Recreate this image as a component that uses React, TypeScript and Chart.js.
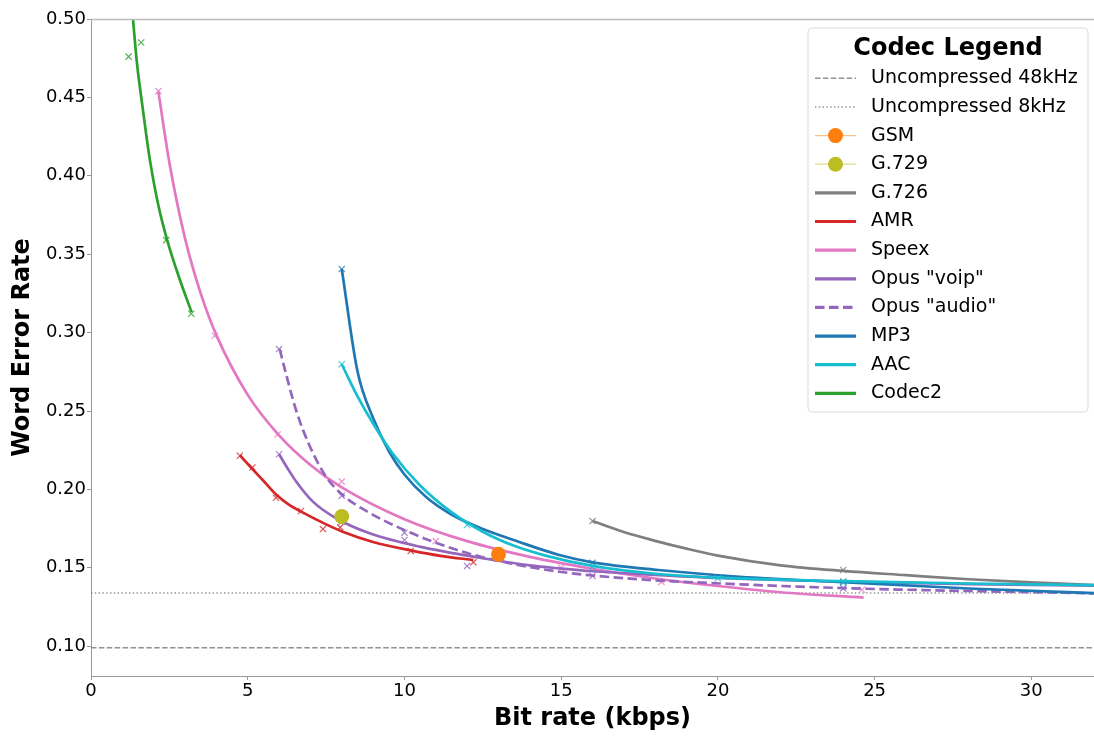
import React, { useEffect, useRef } from 'react';
import { Chart, registerables } from 'chart.js';

Chart.register(...registerables);

// ---- axes ----
const X_MIN = 0;
const X_MAX = 32;
const Y_MIN = 0.081;
const Y_MAX = 0.5;
const X_TICKS = [0, 5, 10, 15, 20, 25, 30];
const Y_TICKS = [0.1, 0.15, 0.2, 0.25, 0.3, 0.35, 0.4, 0.45, 0.5];
const X_TITLE = 'Bit rate (kbps)';
const Y_TITLE = 'Word Error Rate';
const LEGEND_TITLE = 'Codec Legend';

// ---- reference lines ----
const UNCOMP_48K = 0.099;
const UNCOMP_8K = 0.1339;

// ---- single-point codecs ----
const GSM_X = [13.0];
const GSM_Y = [0.1586];
const G729_X = [8.0];
const G729_Y = [0.1827];

// ---- G.726 ----
const g726CurveX = [16, 17, 18, 19, 20, 22, 24, 26, 28, 30, 32];
const g726CurveY = [0.1798, 0.1728, 0.1672, 0.1622, 0.1578, 0.1516, 0.148, 0.1453, 0.1427, 0.1407, 0.139];
const g726MarkX = [16, 24];
const g726MarkY = [0.1798, 0.1486];

// ---- AMR ----
const amrCurveX = [4.75, 5.15, 5.5, 5.93, 6.3, 6.69, 7.42, 8.03, 9.0, 10.23, 11.2, 12.2];
const amrCurveY = [0.2218, 0.213, 0.2055, 0.1962, 0.1905, 0.186, 0.1785, 0.173, 0.1665, 0.161, 0.1575, 0.155];
const amrMarkX = [4.75, 5.15, 5.9, 6.7, 7.4, 7.95, 10.2, 12.2];
const amrMarkY = [0.2215, 0.214, 0.1947, 0.1862, 0.1747, 0.1758, 0.1607, 0.1535];

// ---- Speex ----
const speexCurveX = [2.15, 2.5, 3.0, 3.5, 4.0, 5.0, 6.0, 7.0, 8.0, 10.0, 12.0, 14.0, 16.0, 18.0, 20.0, 22.0, 24.65];
const speexCurveY = [0.4537, 0.4085, 0.3601, 0.325, 0.2984, 0.2603, 0.2345, 0.2156, 0.2013, 0.181, 0.167, 0.157, 0.1494, 0.1432, 0.1384, 0.1344, 0.131];
const speexMarkX = [2.15, 3.95, 5.95, 8.0, 11.0, 15.0, 18.2, 24.6];
const speexMarkY = [0.454, 0.298, 0.235, 0.205, 0.167, 0.15, 0.141, 0.136];

// ---- Opus "voip" ----
const voipCurveX = [6.0, 6.3, 6.55, 7.08, 7.82, 8.89, 10.48, 12.6, 14.0, 15.0, 16.0, 18.0, 20.0, 24.0, 28.0, 32.0];
const voipCurveY = [0.2224, 0.2125, 0.2049, 0.1922, 0.1816, 0.172, 0.1635, 0.1558, 0.1515, 0.1495, 0.1478, 0.1455, 0.1435, 0.1412, 0.1396, 0.1386];
const voipMarkX = [6, 8, 10, 12];
const voipMarkY = [0.2224, 0.1794, 0.1677, 0.1512];

// ---- Opus "audio" ----
const audioCurveX = [6.02, 6.23, 6.55, 6.97, 7.5, 8.03, 8.89, 9.95, 11.0, 12.07, 13.34, 14.94, 17.06, 20.67, 24.27, 28.0, 32.0];
const audioCurveY = [0.2895, 0.273, 0.25, 0.228, 0.2081, 0.1964, 0.185, 0.1745, 0.166, 0.159, 0.153, 0.1475, 0.1433, 0.1395, 0.1369, 0.1352, 0.1337];
const audioMarkX = [6, 8, 10, 16, 24];
const audioMarkY = [0.2895, 0.196, 0.1724, 0.1448, 0.1369];

// ---- MP3 ----
const mp3CurveX = [8.0, 8.5, 9.0, 9.5, 10.0, 10.7, 11.5, 12.4, 13.66, 14.94, 16.0, 18.1, 20.7, 24.0, 28.0, 32.0];
const mp3CurveY = [0.3406, 0.2755, 0.2455, 0.2245, 0.2095, 0.195, 0.184, 0.1755, 0.1665, 0.1582, 0.1535, 0.1486, 0.1443, 0.1408, 0.1368, 0.1338];
const mp3MarkX = [8, 16, 24];
const mp3MarkY = [0.3406, 0.1532, 0.1412];

// ---- AAC ----
const aacCurveX = [8.0, 8.5, 9.0, 9.6, 10.5, 11.5, 12.5, 13.5, 14.5, 16.0, 18.0, 20.0, 24.0, 28.0, 32.0];
const aacCurveY = [0.2798, 0.2595, 0.242, 0.2235, 0.2025, 0.1855, 0.173, 0.164, 0.1578, 0.1512, 0.1462, 0.1437, 0.1415, 0.14, 0.139];
const aacMarkX = [8, 12, 16, 20, 24];
const aacMarkY = [0.2798, 0.1773, 0.1507, 0.1433, 0.1405];

// ---- Codec2 ----
const codec2CurveX = [1.2, 1.34, 1.46, 1.61, 1.75, 1.88, 2.14, 2.43, 2.83, 3.21];
const codec2CurveY = [0.534, 0.5, 0.473, 0.449, 0.428, 0.41, 0.382, 0.359, 0.334, 0.313];
const codec2MarkX = [1.2, 1.6, 2.4, 3.2];
const codec2MarkY = [0.476, 0.485, 0.359, 0.312];

// ---- colours ----
const C_GRAY = '#7f7f7f';
const C_ORANGE = '#ff7f0e';
const C_OLIVE = '#bcbd22';
const C_RED = '#d62728';
const C_PINK = '#e377c2';
const C_PURPLE = '#9467bd';
const C_BLUE = '#1f77b4';
const C_CYAN = '#17becf';
const C_GREEN = '#2ca02c';

const FONT = "'DejaVu Sans', sans-serif";

function rgba(hex: string, a: number) {
  const n = parseInt(hex.slice(1), 16);
  return `rgba(${(n >> 16) & 255},${(n >> 8) & 255},${n & 255},${a})`;
}
function pts(xs: number[], ys: number[]) {
  return xs.map((x, i) => ({ x, y: ys[i] }));
}

type Kind = 'ref-dash' | 'ref-dot' | 'dot' | 'solid' | 'dash';
interface SeriesDef {
  label: string;
  color: string;
  kind: Kind;
  cx?: number[];
  cy?: number[];
  mx?: number[];
  my?: number[];
}

const LINE_W = 2.7;

export default function App() {
  const ref = useRef<HTMLCanvasElement>(null);

  useEffect(() => {
    const series: SeriesDef[] = [
      { label: 'Uncompressed 48kHz', color: C_GRAY, kind: 'ref-dash', cx: [X_MIN, X_MAX], cy: [UNCOMP_48K, UNCOMP_48K] },
      { label: 'Uncompressed 8kHz', color: C_GRAY, kind: 'ref-dot', cx: [X_MIN, X_MAX], cy: [UNCOMP_8K, UNCOMP_8K] },
      { label: 'GSM', color: C_ORANGE, kind: 'dot', mx: GSM_X, my: GSM_Y },
      { label: 'G.729', color: C_OLIVE, kind: 'dot', mx: G729_X, my: G729_Y },
      { label: 'G.726', color: C_GRAY, kind: 'solid', cx: g726CurveX, cy: g726CurveY, mx: g726MarkX, my: g726MarkY },
      { label: 'AMR', color: C_RED, kind: 'solid', cx: amrCurveX, cy: amrCurveY, mx: amrMarkX, my: amrMarkY },
      { label: 'Speex', color: C_PINK, kind: 'solid', cx: speexCurveX, cy: speexCurveY, mx: speexMarkX, my: speexMarkY },
      { label: 'Opus "voip"', color: C_PURPLE, kind: 'solid', cx: voipCurveX, cy: voipCurveY, mx: voipMarkX, my: voipMarkY },
      { label: 'Opus "audio"', color: C_PURPLE, kind: 'dash', cx: audioCurveX, cy: audioCurveY, mx: audioMarkX, my: audioMarkY },
      { label: 'MP3', color: C_BLUE, kind: 'solid', cx: mp3CurveX, cy: mp3CurveY, mx: mp3MarkX, my: mp3MarkY },
      { label: 'AAC', color: C_CYAN, kind: 'solid', cx: aacCurveX, cy: aacCurveY, mx: aacMarkX, my: aacMarkY },
      { label: 'Codec2', color: C_GREEN, kind: 'solid', cx: codec2CurveX, cy: codec2CurveY, mx: codec2MarkX, my: codec2MarkY },
    ];

    const datasets: any[] = [];
    series.forEach((s, i) => {
      if (s.kind === 'dot') {
        datasets.push({
          label: s.label,
          data: pts(s.mx!, s.my!),
          showLine: false,
          pointStyle: 'circle',
          pointRadius: 7.5,
          pointBorderWidth: 0,
          backgroundColor: s.color,
          borderColor: s.color,
          order: -1000 - i,
        });
        return;
      }
      if (s.cx) {
        const isRef = s.kind === 'ref-dash' || s.kind === 'ref-dot';
        datasets.push({
          label: s.label,
          data: pts(s.cx, s.cy!),
          showLine: true,
          pointRadius: 0,
          borderColor: isRef ? rgba(s.color, 0.85) : s.color,
          borderWidth: isRef ? 1.4 : LINE_W,
          borderDash: s.kind === 'ref-dash' ? [5.5, 2.4] : s.kind === 'ref-dot' ? [1.4, 2.4] : s.kind === 'dash' ? [9.5, 4.5] : [],
          cubicInterpolationMode: 'monotone',
          fill: false,
          order: -i * 2,
        });
      }
      if (s.mx) {
        datasets.push({
          label: s.label + ' data',
          data: pts(s.mx, s.my!),
          showLine: false,
          pointStyle: 'crossRot',
          pointRadius: 4.4,
          pointBorderWidth: 1.2,
          borderColor: rgba(s.color, 0.8),
          backgroundColor: rgba(s.color, 0.8),
          order: -i * 2 - 1,
        });
      }
    });

    const framePlugin = {
      id: 'frameAndLegend',
      afterDraw(chart: any) {
        const { ctx, chartArea: ca } = chart;
        ctx.save();
        // top spine
        ctx.strokeStyle = '#bdbdbd';
        ctx.lineWidth = 1.3;
        ctx.beginPath();
        ctx.moveTo(ca.left, ca.top + 0.5);
        ctx.lineTo(ca.right, ca.top + 0.5);
        ctx.stroke();

        // legend box
        const bw = 280;
        const bh = 384;
        const bx = ca.right - 6 - bw;
        const by = ca.top + 9;
        const r = 4;
        ctx.beginPath();
        ctx.moveTo(bx + r, by);
        ctx.lineTo(bx + bw - r, by);
        ctx.arcTo(bx + bw, by, bx + bw, by + r, r);
        ctx.lineTo(bx + bw, by + bh - r);
        ctx.arcTo(bx + bw, by + bh, bx + bw - r, by + bh, r);
        ctx.lineTo(bx + r, by + bh);
        ctx.arcTo(bx, by + bh, bx, by + bh - r, r);
        ctx.lineTo(bx, by + r);
        ctx.arcTo(bx, by, bx + r, by, r);
        ctx.closePath();
        ctx.fillStyle = 'rgba(255,255,255,0.85)';
        ctx.fill();
        ctx.strokeStyle = '#dcdcdc';
        ctx.lineWidth = 1;
        ctx.stroke();

        ctx.fillStyle = '#000';
        ctx.font = `bold 24px ${FONT}`;
        ctx.textAlign = 'center';
        ctx.textBaseline = 'alphabetic';
        ctx.fillText(LEGEND_TITLE, bx + bw / 2, by + 27);

        const x1 = bx + 7;
        const x2 = bx + 48;
        series.forEach((s, i) => {
          const cy = by + 50.3 + i * 28.64;
          ctx.save();
          ctx.lineCap = 'butt';
          if (s.kind === 'ref-dash' || s.kind === 'ref-dot') {
            ctx.strokeStyle = rgba(s.color, 0.85);
            ctx.lineWidth = 1.4;
            ctx.setLineDash(s.kind === 'ref-dash' ? [5.5, 2.4] : [1.4, 2.4]);
            ctx.beginPath();
            ctx.moveTo(x1, cy);
            ctx.lineTo(x2, cy);
            ctx.stroke();
          } else if (s.kind === 'dot') {
            ctx.strokeStyle = rgba(s.color, 0.5);
            ctx.lineWidth = 1.2;
            ctx.beginPath();
            ctx.moveTo(x1, cy);
            ctx.lineTo(x2, cy);
            ctx.stroke();
            ctx.fillStyle = s.color;
            ctx.beginPath();
            ctx.arc((x1 + x2) / 2, cy, 7.5, 0, Math.PI * 2);
            ctx.fill();
          } else {
            ctx.strokeStyle = s.color;
            ctx.lineWidth = 3.2;
            ctx.setLineDash(s.kind === 'dash' ? [9.5, 4.5] : []);
            ctx.beginPath();
            ctx.moveTo(x1, cy);
            ctx.lineTo(x2, cy);
            ctx.stroke();
          }
          ctx.restore();
          ctx.fillStyle = '#000';
          ctx.font = `19px ${FONT}`;
          ctx.textAlign = 'left';
          ctx.textBaseline = 'middle';
          ctx.fillText(s.label, bx + 63, cy);
        });
        ctx.restore();
      },
    };

    Chart.defaults.font.family = FONT;
    Chart.defaults.color = '#000';

    const chart = new Chart(ref.current!, {
      type: 'scatter',
      data: { datasets },
      options: {
        responsive: false,
        animation: false,
        devicePixelRatio: 1,
        layout: { autoPadding: false, padding: { top: 19, right: 0, left: 0, bottom: 0 } },
        plugins: {
          legend: { display: false },
          tooltip: { enabled: false },
        },
        scales: {
          x: {
            type: 'linear',
            min: X_MIN,
            max: X_MAX,
            afterBuildTicks: (scale: any) => {
              scale.ticks = X_TICKS.map((v) => ({ value: v }));
            },
            afterFit: (scale: any) => {
              scale.height = 60;
              scale.paddingRight = 0;
              scale.paddingLeft = 0;
            },
            ticks: {
              font: { size: 18, family: FONT },
              color: '#000',
              padding: 1,
              maxRotation: 0,
              callback: (v: any) => String(v),
            },
            grid: { display: true, drawOnChartArea: false, drawTicks: true, tickLength: 4, color: '#999' },
            border: { display: true, color: '#999', width: 1 },
            title: {
              display: true,
              text: X_TITLE,
              font: { size: 24, weight: 'bold', family: FONT },
              color: '#000',
              padding: { top: 0, bottom: 3 },
            },
          },
          y: {
            type: 'linear',
            min: Y_MIN,
            max: Y_MAX,
            afterBuildTicks: (scale: any) => {
              scale.ticks = Y_TICKS.map((v) => ({ value: v }));
            },
            afterFit: (scale: any) => {
              scale.width = 91;
            },
            ticks: {
              font: { size: 18, family: FONT },
              color: '#000',
              padding: 1,
              callback: (v: any) => Number(v).toFixed(2),
            },
            grid: { display: true, drawOnChartArea: false, drawTicks: true, tickLength: 4, color: '#999' },
            border: { display: true, color: '#999', width: 1 },
            title: {
              display: true,
              text: Y_TITLE,
              font: { size: 24, weight: 'bold', family: FONT },
              color: '#000',
              padding: { top: 8, bottom: 0 },
            },
          },
        },
      } as any,
      plugins: [framePlugin],
    });
    return () => chart.destroy();
  }, []);

  return (
    <div style={{ position: 'absolute', left: 0, top: 0, width: 1094, height: 736, background: '#fff' }}>
      <canvas ref={ref} width={1094} height={736} style={{ display: 'block', width: 1094, height: 736 }} />
    </div>
  );
}
